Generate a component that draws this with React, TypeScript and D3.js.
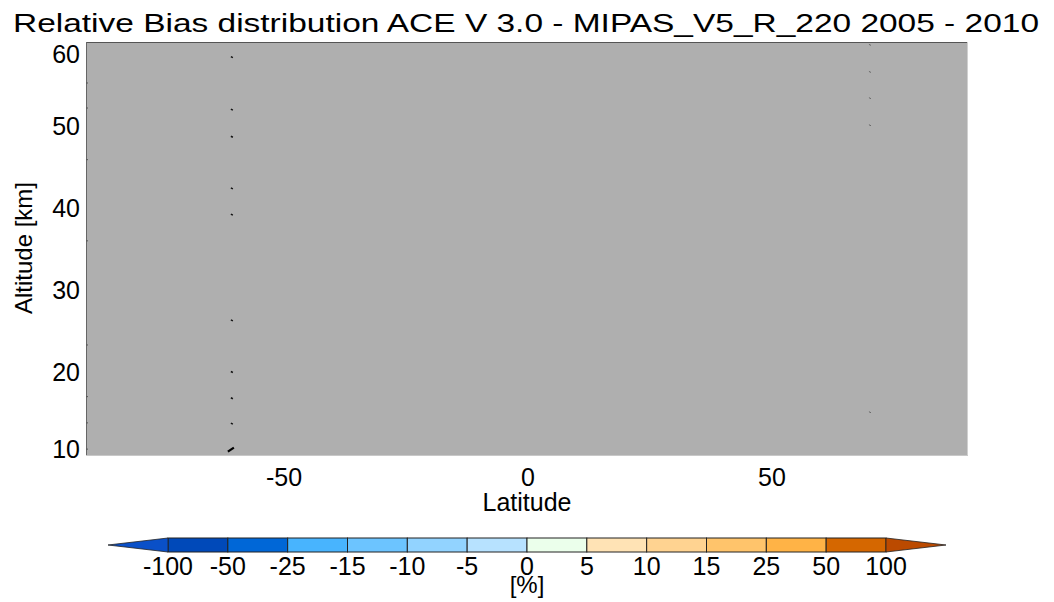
import React from "react";
import * as d3 from "d3";

const title = "Relative Bias distribution ACE V 3.0 - MIPAS_V5_R_220 2005 - 2010";
const yTicks = [10, 20, 30, 40, 50, 60];
const xTicks = [-50, 0, 50];
const cbBounds = ["-100", "-50", "-25", "-15", "-10", "-5", "0", "5", "10", "15", "25", "50", "100"];
const cbColors = ["#0049b9", "#0067d7", "#48b4fe", "#6cc4ff", "#92d3ff", "#b7e2ff", "#ebffeb", "#ffe3b5", "#ffd391", "#ffc46b", "#ffb346", "#d56700"];
const lowColor = "#0a50c8";
const highColor = "#bb4a00";
// scattered isolated marks (altitudes)
const marksSouth = [58.4, 52.0, 48.7, 42.4, 39.2, 26.3, 20.0, 16.8, 13.7];
const marksNorth = [59.9, 56.6, 53.4, 50.1, 15.1];
const marksEdge = [55.25, 52.2, 45.9, 36.0, 23.3, 17.0, 13.8, 10.6];

const W = 1054, H = 602;
const FONT = "'Liberation Sans', Arial, Helvetica, sans-serif";

export default function App() {
  const x = d3.scaleLinear().domain([-90.6, 90.2]).range([86, 968]);
  const y = d3.scaleLinear().domain([9.76, 60.25]).range([456, 42]);
  const cb = d3.scaleLinear().domain([0, 12]).range([168, 886]);
  const cbTop = 538, cbBot = 552, cbMid = 545;
  const tri = 60;
  return (
    <svg width={W} height={H} style={{ position: "absolute", left: 0, top: 0, background: "#fff" }} fontFamily={FONT}>
      <text x={13} y={32} fontSize={26} textLength={1026} lengthAdjust="spacingAndGlyphs" fill="#000">{title}</text>
      <rect x={x(-90.6)} y={y(60.25)} width={x(90.2) - x(-90.6)} height={y(9.76) - y(60.25)} fill="#afafaf" />
      <line x1={x(-90.6)} x2={x(90.2)} y1={y(60.25) + 0.5} y2={y(60.25) + 0.5} stroke="#555" strokeWidth={1} />
      <line x1={x(-90.6) + 0.5} x2={x(-90.6) + 0.5} y1={y(60.25)} y2={y(9.76)} stroke="#666" strokeWidth={1} />
      <line x1={x(90.2) - 0.5} x2={x(90.2) - 0.5} y1={y(60.25)} y2={y(9.76)} stroke="#d0d0d0" strokeWidth={1} />
      <line x1={x(-90.6)} x2={x(90.2)} y1={y(9.76) - 0.5} y2={y(9.76) - 0.5} stroke="#c8c8c8" strokeWidth={1} />
      {marksSouth.map((a, i) => (
        <line key={"s" + i} x1={x(-60.7) - 1} x2={x(-60.7) + 1} y1={y(a) - 0.5} y2={y(a) + 0.5} stroke="#111" strokeWidth={1.5} />
      ))}
      <line x1={x(-60.7) - 4} x2={x(-60.7) + 2} y1={y(10.6) + 2.5} y2={y(10.6) - 1.5} stroke="#000" strokeWidth={2.2} />
      {marksNorth.map((a, i) => (
        <line key={"n" + i} x1={x(70.1) - 1} x2={x(70.1) + 1} y1={y(a) - 0.5} y2={y(a) + 0.5} stroke="#666" strokeWidth={1} />
      ))}
      {marksEdge.map((a, i) => (
        <line key={"e" + i} x1={x(-90.6)} x2={x(-90.6) + 2} y1={y(a)} y2={y(a)} stroke="#555" strokeWidth={1} />
      ))}
      {yTicks.map((t) => (
        <text key={t} x={80} y={Math.min(Math.max(y(t), 54), 449)} dy="0.36em" textAnchor="end" fontSize={25}>{t}</text>
      ))}
      {xTicks.map((t) => (
        <text key={t} x={x(t)} y={486} textAnchor="middle" fontSize={25}>{t}</text>
      ))}
      <text x={527} y={511} textAnchor="middle" fontSize={25}>Latitude</text>
      <text transform="translate(32,248) rotate(-90)" textAnchor="middle" fontSize={24}>Altitude [km]</text>
      {cbColors.map((c, i) => (
        <rect key={i} x={cb(i)} y={cbTop} width={cb(i + 1) - cb(i)} height={cbBot - cbTop} fill={c} stroke="#222" strokeWidth={1} />
      ))}
      <path d={`M${cb(0)},${cbTop}L${cb(0) - tri},${cbMid}L${cb(0)},${cbBot}Z`} fill={lowColor} stroke="#222" strokeWidth={0.8} />
      <path d={`M${cb(12)},${cbTop}L${cb(12) + tri},${cbMid}L${cb(12)},${cbBot}Z`} fill={highColor} stroke="#222" strokeWidth={0.8} />
      {cbBounds.map((b, i) => (
        <text key={b} x={cb(i)} y={575} textAnchor="middle" fontSize={25}>{b}</text>
      ))}
      <text x={527} y={593} textAnchor="middle" fontSize={24}>[%]</text>
    </svg>
  );
}
